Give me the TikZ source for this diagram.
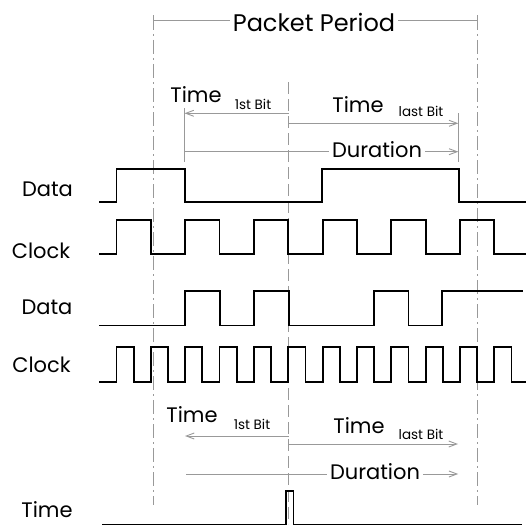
\documentclass[tikz,border=0pt]{standalone}
\usepackage{fontspec}
\setmainfont{Poppins}
\usetikzlibrary{arrows.meta}
\begin{document}
\begin{tikzpicture}[x=1pt,y=-1pt,
 sig/.style={line width=1.8pt, black, line join=miter},
 guide/.style={line width=0.9pt, black!40},
 dashdot/.style={guide, dash pattern=on 14pt off 4pt on 2pt off 4pt},
 dashmid/.style={guide, dash pattern=on 12pt off 5pt},
 arr/.style={guide, -{Straight Barb[length=8pt,width=6pt]}},
 lbl/.style={font=\fontsize{21}{23}\selectfont, inner sep=0pt},
 big/.style={font=\fontsize{24}{26}\selectfont, inner sep=0pt},
 subt/.style={font=\fontsize{13.5}{15}\selectfont, inner sep=0pt},
]
\useasboundingbox (0,0) rectangle (526,527);
% vertical guides
\draw[dashdot] (153.3,16) -- (153.3,505);
\draw[dashdot] (477.8,16) -- (477.8,505);
\draw[dashmid] (288.5,82) -- (288.5,524);
% packet period
\draw[guide] (153.3,20) -- (477.8,20);
\draw[guide] (153.3,15.5) -- (153.3,24.5);
\draw[guide] (477.8,15.5) -- (477.8,24.5);
\node[big, fill=white, inner xsep=3pt] (pp) at (314,22) {Packet Period};
% top measurement
\coordinate (tm1) at (288.5,113.3);
\coordinate (tl1) at (184.5,113.3);
\coordinate (tm2) at (288.5,123.3);
\coordinate (tr2) at (458.3,123.3);
\coordinate (td1) at (184.5,151.7);
\coordinate (td2) at (458.3,151.7);
\draw[guide] (184.5,108) -- (184.5,162);
\draw[guide] (458.3,113) -- (458.3,162);
\draw[arr] (tm1) -- (tl1);
\draw[arr] (tm2) -- (tr2);
\draw[arr] (td1) -- (td2);
\node[lbl] (t1a) at (196,95) {Time};
\node[subt] (t1b) at (253,104) {1st Bit};
\node[lbl] (t2a) at (358,104.5) {Time};
\node[subt] (t2b) at (421,111) {last Bit};
\node[lbl, fill=white, inner xsep=3pt] (dur1) at (377,150) {Duration};
% bottom measurement
\coordinate (bm1) at (288.5,436);
\coordinate (bl1) at (185,436);
\coordinate (bm2) at (288.5,444);
\coordinate (br2) at (458,444);
\coordinate (bd1) at (186.3,474);
\coordinate (bd2) at (458.2,474);
\draw[arr] (bm1) -- (bl1);
\draw[arr] (bm2) -- (br2);
\draw[arr] (bd1) -- (bd2);
\node[lbl] (b1a) at (192,415) {Time};
\node[subt] (b1b) at (252,424) {1st Bit};
\node[lbl] (b2a) at (359,425.5) {Time};
\node[subt] (b2b) at (421,434) {last Bit};
\node[lbl, fill=white, inner xsep=3pt] (dur2) at (375,472) {Duration};
% row labels
\node[lbl] (ld1) at (47.5,189) {Data};
\node[lbl] (lc1) at (41,251) {Clock};
\node[lbl] (ld2) at (47,307) {Data};
\node[lbl] (lc2) at (41.5,365) {Clock};
\node[lbl] (lt) at (47,510) {Time};
% signals
\draw[sig] (99.4,202) -- (116.5,202) -- (116.5,169) -- (184.6,169) -- (184.6,202) -- (322.3,202) -- (322.3,169) -- (458.9,169) -- (458.9,202) -- (526,202);
\draw[sig] (99.4,254) foreach \k in {0,...,5}{ -- ({116.5+68.7*\k},254) -- ++(0,-34.2) -- ++(34.35,0) -- ++(0,34.2)} -- (526,254);
\draw[sig] (99.4,325.4) -- (184.6,325.4) -- (184.6,290.8) -- (219.9,290.8) -- (219.9,325.4) -- (254.1,325.4) -- (254.1,290.8) -- (288.7,290.8) -- (288.7,325.4) -- (374.3,325.4) -- (374.3,290.8) -- (408.5,290.8) -- (408.5,325.4) -- (441.8,325.4) -- (441.8,290.8) -- (522.7,290.8);
\draw[sig] (99.4,382) foreach \k in {0,...,11}{ -- ({116.5+34.35*\k},382) -- ++(0,-35) -- ++(17.17,0) -- ++(0,35)} -- (526,382);
\draw[sig] (102.4,524.5) -- (285.8,524.5) -- (285.8,490.8) -- (293.5,490.8) -- (293.5,524.5) -- (522,524.5);
\end{tikzpicture}
\end{document}
